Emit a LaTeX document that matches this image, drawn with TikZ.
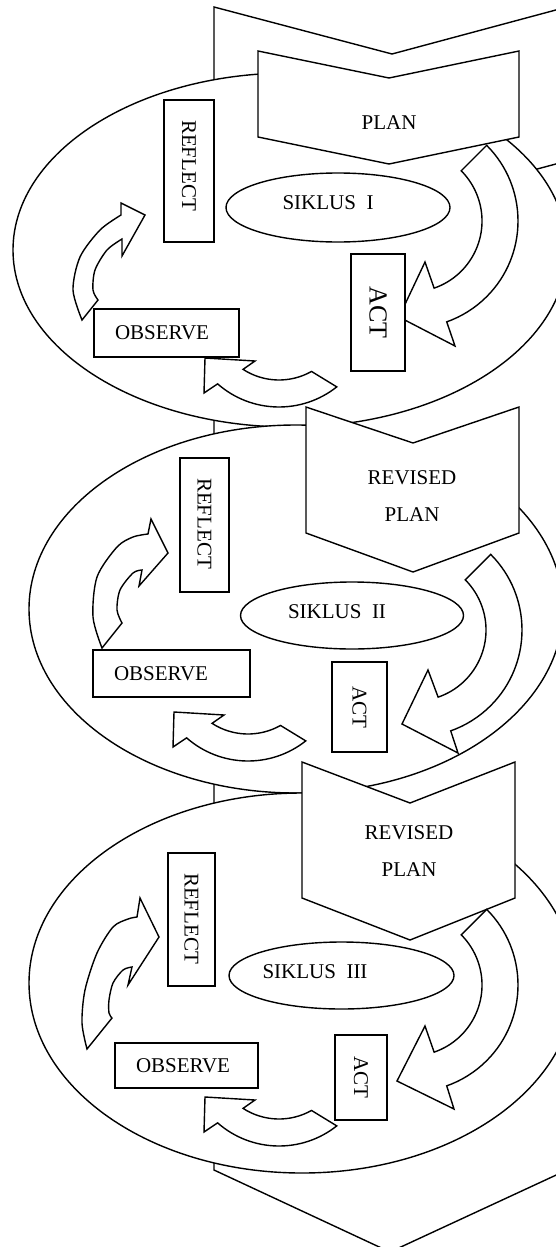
\documentclass[tikz,border=0pt]{standalone}
\usepackage{fontspec}
\setmainfont{Liberation Serif}
\usetikzlibrary{shapes.geometric}
\newcommand{\bodysize}{\fontsize{21}{37}\selectfont}

\begin{document}
\begin{tikzpicture}[x=1pt, y=-1pt, line width=1.4pt,
    whiteshape/.style={draw, fill=white, line join=miter},
    chevron/.style={whiteshape},
    ring/.style={whiteshape, ellipse, inner sep=0pt},
    swoosh/.style={whiteshape},
    caption/.style={font=\bodysize, inner sep=0pt, align=center},
    reflectbox/.style={whiteshape, rotate=-90, font=\bodysize, align=left, inner xsep=20pt, inner ysep=0pt},
    actbox/.style={whiteshape, rotate=-90, font=\bodysize, inner sep=0pt},
    observebox/.style={whiteshape, font=\bodysize, align=left, inner xsep=21pt, inner ysep=0pt}
  ]
  \useasboundingbox (0,0) rectangle (556,1247);
  \clip (0,0) rectangle (556,1247);

  \draw[chevron] (214,7) -- (392,54) -- (567,7) -- (567,280) -- (390,362) -- (214,280) -- cycle;
  \draw[chevron] (214,161) -- (392,208) -- (567,161) -- (567,600) -- (390,682) -- (214,600) -- cycle;
  \draw[chevron] (214,590) -- (392,637) -- (567,590) -- (567,1170) -- (390,1252) -- (214,1170) -- cycle;

  \node[ring, minimum width=554pt, minimum height=354pt] (ring1) at (290,250) {};
  \node[ring, minimum width=534pt, minimum height=368pt] (ring2) at (296,609) {};
  \node[ring, minimum width=546pt, minimum height=380pt] (ring3) at (302,983) {};

  \draw[chevron] (258,51) -- (389,78) -- (519,51) -- (519,137) -- (389,164) -- (258,137) -- cycle;
  \node[caption] (plan1) at (389,123) {PLAN};
  \draw[chevron] (306,407) -- (413,443) -- (519,407) -- (519,533) -- (413,572) -- (306,533) -- cycle;
  \node[caption] (plan2) at (412,496.5) {REVISED\\PLAN};
  \draw[chevron] (302,762) -- (410,803) -- (515,762) -- (515,898) -- (410,940) -- (302,898) -- cycle;
  \node[caption] (plan3) at (409,851.5) {REVISED\\PLAN};

  \draw[swoosh] ([shift={(411,221)}]-45:107) arc[start angle=-45, end angle=70.5, radius=107] -- (455,346) -- (399,317) -- (425,262) -- ([shift={(411,221)}]71:71) arc[start angle=71, end angle=-45, radius=71] -- cycle;
  \draw[swoosh] ([shift={(279,314)}]51.6:93) arc[start angle=51.6, end angle=131.3, radius=93] -- (204,393) -- (205,358) -- (255,361) -- ([shift={(279,314)}]123:66) arc[start angle=123, end angle=60.5, radius=66] -- cycle;
  \draw[swoosh] plot[smooth] coordinates {(82,320) (73,290) (80,257) (100,230) (121,215)} -- (121,203) -- (145,215) -- (122,256) -- plot[smooth] coordinates {(122,239) (107,250) (95,270) (93,290) (98,300)} -- cycle;

  \draw[swoosh] ([shift={(415,630)}]-45:107) arc[start angle=-45, end angle=70.5, radius=107] -- (458,753) -- (402,724) -- (428,670) -- ([shift={(415,630)}]71:71) arc[start angle=71, end angle=-45, radius=71] -- cycle;
  \draw[swoosh] ([shift={(248,668)}]51.6:93) arc[start angle=51.6, end angle=131.3, radius=93] -- (173,747) -- (174,712) -- (224,715) -- ([shift={(248,668)}]123:66) arc[start angle=123, end angle=60.5, radius=66] -- cycle;
  \draw[swoosh] plot[smooth] coordinates {(102,648) (93,617) (97,577) (117,547) (133,537) (148,534)} -- (151,519) -- (168,553) -- (139,586) -- plot[smooth] coordinates {(142,570) (133,573) (120,590) (117,610) (122,623)} -- cycle;

  \draw[swoosh] ([shift={(411,985)}]-45:107) arc[start angle=-45, end angle=70.5, radius=107] -- (454,1109) -- (397,1081) -- (425,1026) -- ([shift={(411,985)}]71:71) arc[start angle=71, end angle=-45, radius=71] -- cycle;
  \draw[swoosh] ([shift={(279,1053)}]51.6:93) arc[start angle=51.6, end angle=131.3, radius=93] -- (204,1132) -- (205,1097) -- (255,1100) -- ([shift={(279,1053)}]123:66) arc[start angle=123, end angle=60.5, radius=66] -- cycle;
  \draw[swoosh] plot[smooth] coordinates {(87,1049) (82,1023) (85,990) (97,953) (113,927) (128,919) (137,917)} -- (140,898) -- (159,937) -- (128,985) -- plot[smooth] coordinates {(132,967) (123,970) (113,983) (109,1000) (109,1013) (112,1018)} -- cycle;

  \node[reflectbox, text width=102pt, minimum height=50pt] (reflect1) at (189,171) {REFLECT};
  \node[actbox, minimum width=117pt, minimum height=54pt, font=\fontsize{26}{30}\selectfont] (act1) at (378,312.5) {ACT};
  \node[observebox, text width=103pt, minimum height=48pt] (observe1) at (166.5,333) {OBSERVE};
  \node[ring, minimum width=224pt, minimum height=69pt] (siklus1) at (338,207.5) {};
  \node[caption] (siklus1 text) at (328,203) {SIKLUS\ \ I};

  \node[reflectbox, text width=94pt, minimum height=49pt] (reflect2) at (204.5,525) {REFLECT};
  \node[actbox, minimum width=90pt, minimum height=55pt] (act2) at (359.5,707) {ACT};
  \node[observebox, text width=115pt, minimum height=47pt] (observe2) at (171.5,673.5) {OBSERVE};
  \node[ring, minimum width=223pt, minimum height=67pt] (siklus2) at (352,615.5) {};
  \node[caption] (siklus2 text) at (337,612) {SIKLUS\ \ II};

  \node[reflectbox, text width=93pt, minimum height=47pt] (reflect3) at (191.5,919.5) {REFLECT};
  \node[actbox, minimum width=85pt, minimum height=52pt] (act3) at (361,1077.5) {ACT};
  \node[observebox, text width=101pt, minimum height=45pt] (observe3) at (186.5,1065.5) {OBSERVE};
  \node[ring, minimum width=225pt, minimum height=67pt] (siklus3) at (341.5,975.5) {};
  \node[caption] (siklus3 text) at (315,972) {SIKLUS\ \ III};
\end{tikzpicture}
\end{document}
